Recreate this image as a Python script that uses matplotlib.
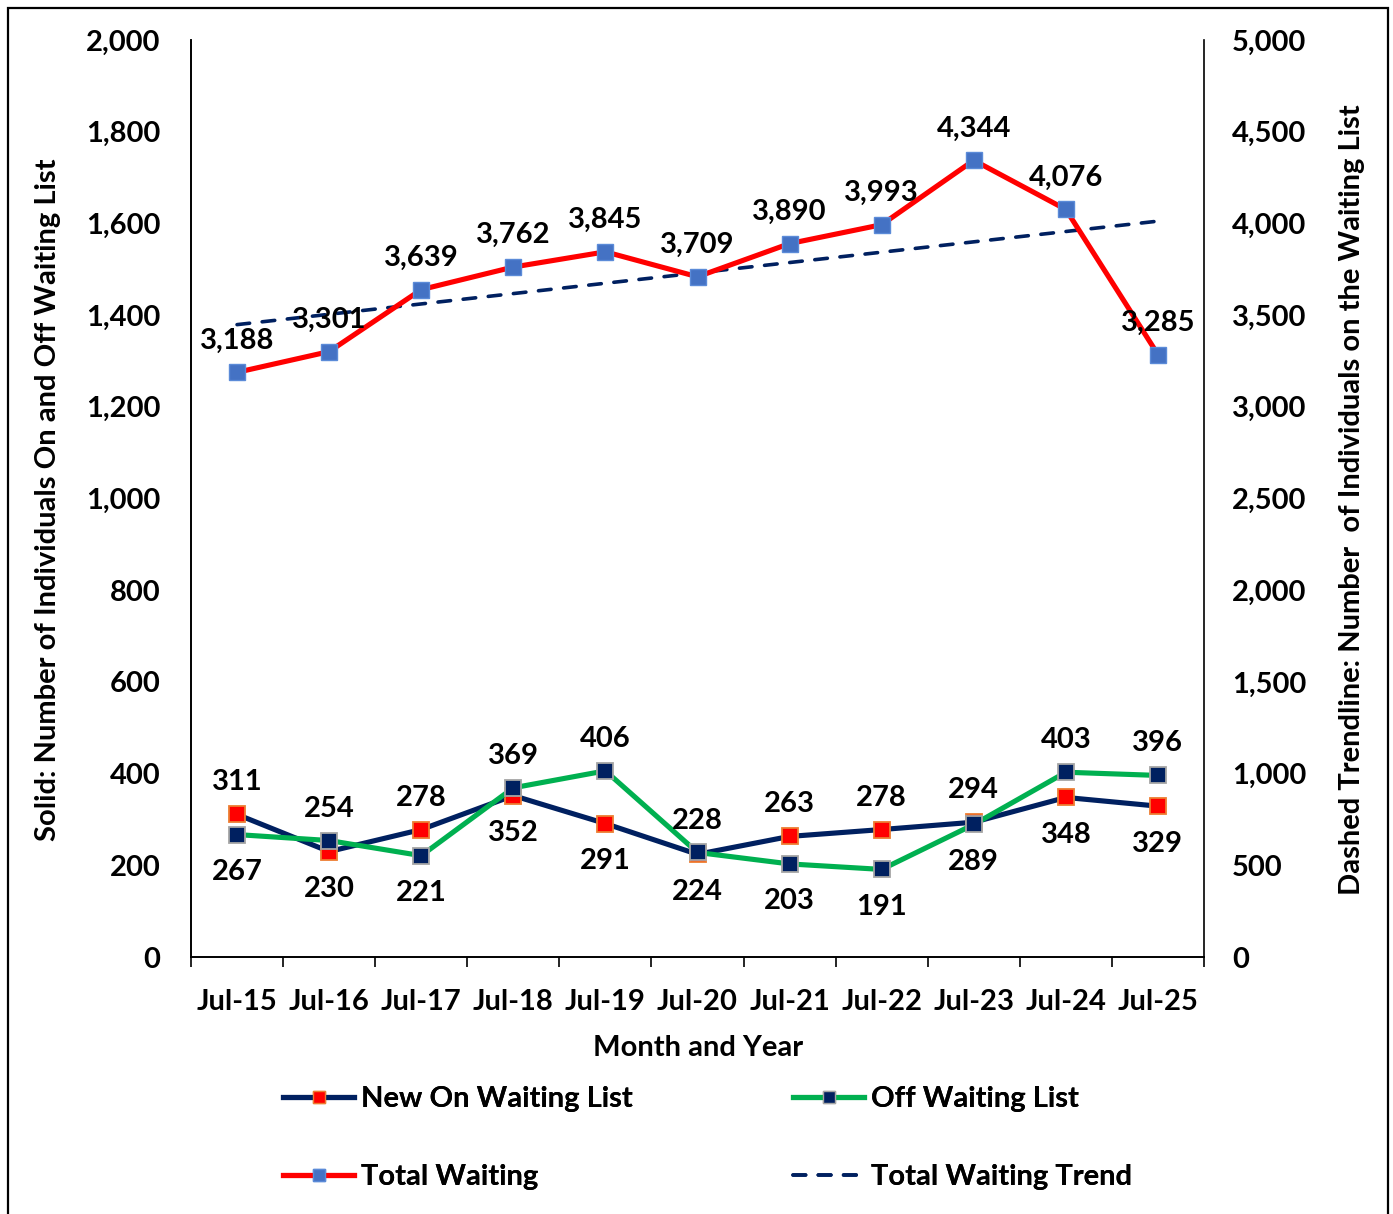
import numpy as np
import matplotlib
matplotlib.use("Agg")
import matplotlib.pyplot as plt
from matplotlib.lines import Line2D
from matplotlib.ticker import FuncFormatter

plt.rcParams['font.family'] = ['Lato', 'DejaVu Sans']
plt.rcParams['font.weight'] = 'bold'

# data
months = ['Jul-15', 'Jul-16', 'Jul-17', 'Jul-18', 'Jul-19', 'Jul-20',
          'Jul-21', 'Jul-22', 'Jul-23', 'Jul-24', 'Jul-25']
new_on = [311, 230, 278, 352, 291, 224, 263, 278, 294, 348, 329]
off_list = [267, 254, 221, 369, 406, 228, 203, 191, 289, 403, 396]
total = [3188, 3301, 3639, 3762, 3845, 3709, 3890, 3993, 4344, 4076, 3285]

NAVY = '#002060'
GREEN = '#00B050'
RED = '#FF0000'
BLUE = '#4472C4'
FS = 21

x = np.arange(len(months))

# linear trendline like excel
coef = np.polyfit(x, total, 1)
trend = np.polyval(coef, x)

fig = plt.figure(figsize=(13.93, 12.14), dpi=100)
ax = fig.add_axes([191/1393, 1-957/1214, (1204-191)/1393, (957-40)/1214])
ax2 = ax.twinx()

ax.plot(x, new_on, color=NAVY, lw=3.7, marker='s', ms=11, mfc=RED, mec='#ED7D31', mew=1.3, zorder=3)
ax.plot(x, off_list, color=GREEN, lw=3.7, marker='s', ms=11, mfc=NAVY, mec='#A5A5A5', mew=1.3, zorder=3)
ax2.plot(x, trend, color=NAVY, lw=2.6, linestyle=(0, (3.5, 3.5)), dash_capstyle='round', zorder=2)
ax2.plot(x, total, color=RED, lw=3.7, marker='s', ms=11, mfc=BLUE, mec='#5B8BD8', mew=1.0, zorder=3)

# data labels: larger value above, smaller below
for i in range(len(x)):
    for v in (new_on[i], off_list[i]):
        if v >= max(new_on[i], off_list[i]):
            off = 23
        else:
            off = -27
        ax.annotate(str(v), (x[i], v), xytext=(0, off), textcoords='offset points',
                    ha='center', va='center', fontsize=FS, fontweight='bold')
    ax2.annotate(f'{total[i]:,}', (x[i], total[i]), xytext=(0, 23), textcoords='offset points',
                 ha='center', va='center', fontsize=FS, fontweight='bold')

ax.set_xlim(-0.5, len(months) - 0.5)
ax.set_ylim(0, 2000)
ax2.set_ylim(0, 5000)
ax.set_yticks(np.arange(0, 2001, 200))
ax2.set_yticks(np.arange(0, 5001, 500))
fmt = FuncFormatter(lambda v, p: f'{int(v):,}')
ax.yaxis.set_major_formatter(fmt)
ax2.yaxis.set_major_formatter(fmt)

ax.set_xticks(x)
ax.set_xticklabels(months)
ax.set_xticks(np.arange(-0.5, len(months)), minor=True)
ax.tick_params(axis='x', which='major', length=0, pad=23, labelsize=FS)
ax.tick_params(axis='x', which='minor', length=7, width=1.2, direction='out')
ax.tick_params(axis='y', length=0, pad=22, labelsize=FS)
ax2.tick_params(axis='y', length=0, pad=20, labelsize=FS)

for a in (ax, ax2):
    a.spines['top'].set_visible(False)
    for s in ('left', 'right', 'bottom'):
        a.spines[s].set_linewidth(1.2)
ax.spines['right'].set_visible(False)

fig.text(48/1393, 1-500/1214, 'Solid: Number of Individuals On and Off Waiting List',
         rotation=90, ha='center', va='center', fontsize=FS, fontweight='bold')
fig.text(1352/1393, 1-500/1214, 'Dashed Trendline: Number  of Individuals on the Waiting List',
         rotation=90, ha='center', va='center', fontsize=FS, fontweight='bold')
fig.text(698/1393, 1-1048/1214, 'Month and Year', ha='center', va='center',
         fontsize=FS, fontweight='bold')

# legend, one entry per box so each sits where the original has it
handles = [
    Line2D([], [], color=NAVY, lw=3.7, marker='s', ms=9, mfc=RED, mec='#ED7D31'),
    Line2D([], [], color=GREEN, lw=3.7, marker='s', ms=9, mfc=NAVY, mec='#A5A5A5'),
    Line2D([], [], color=RED, lw=3.7, marker='s', ms=9, mfc=BLUE, mec='#5B8BD8'),
    Line2D([], [], color=NAVY, lw=2.6, linestyle=(0, (3.5, 3.5)), dash_capstyle='round'),
]
names = ['New On Waiting List', 'Off Waiting List', 'Total Waiting', 'Total Waiting Trend']
spots = [(283, 1099), (793, 1099), (283, 1177), (793, 1177)]
for h, n, (px, py) in zip(handles, names, spots):
    leg = fig.legend([h], [n], loc='center left', bbox_to_anchor=(px/1393, 1-py/1214),
                     frameon=False, fontsize=FS, handlelength=2.45, handletextpad=0.22,
                     borderpad=0, borderaxespad=0)
    fig.add_artist(leg)

# outer border
fig.patches.append(plt.Rectangle((8/1393, -0.01), (1388-8)/1393, 1-8/1214+0.01,
                                 transform=fig.transFigure, fill=False, edgecolor='black', lw=1.6))

fig.savefig('out.png', dpi=100)
